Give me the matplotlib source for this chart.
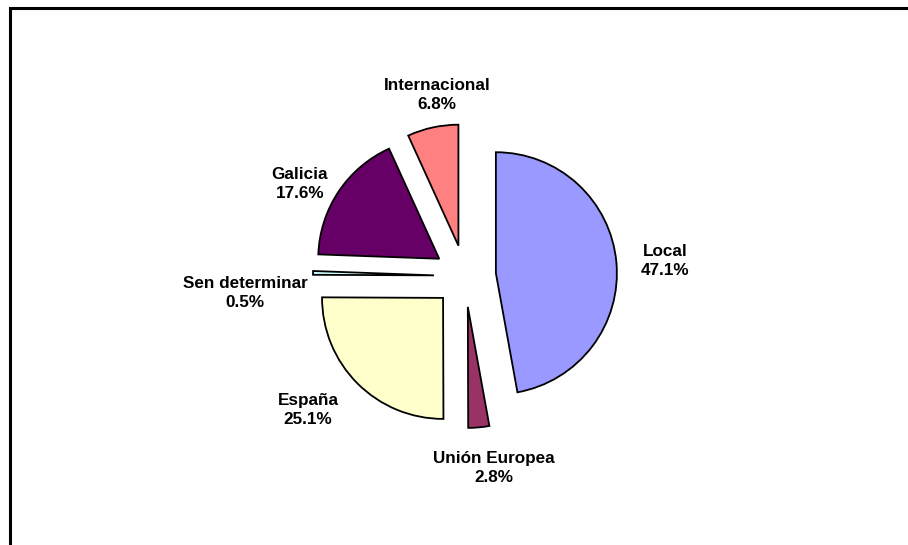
import matplotlib.pyplot as plt
from matplotlib.patches import Rectangle

labels  = ["Local", "Unión Europea", "España", "Sen determinar", "Galicia", "Internacional"]
values  = [47.1, 2.8, 25.1, 0.5, 17.6, 6.8]
colors  = ["#9999FF", "#993366", "#FFFFCC", "#CCFFFF", "#660066", "#FF8080"]
# label centres in image pixels (x, y from top)
label_pos = [(665, 261), (494, 468), (308, 410), (245, 293), (300, 184), (437, 95)]

W, H = 908, 545
fig = plt.figure(figsize=(W / 100, H / 100), dpi=100)
ax = fig.add_axes([0, 0, 1, 1])

radius = 121
# explode is in data units here (pixels)
ax.pie(values, colors=colors, startangle=90, counterclock=False,
       explode=[31] * len(values), center=(465, H - 276), radius=radius,
       wedgeprops=dict(edgecolor="black", linewidth=1.3), frame=True)
ax.set_xlim(0, W)
ax.set_ylim(0, H)
ax.set_aspect("equal")
ax.axis("off")

for lab, v, (x, y) in zip(labels, values, label_pos):
    ax.text(x, H - y, f"{lab}\n{v:.1f}%", ha="center", va="center",
            fontsize=12.3, fontweight="bold", family="Liberation Sans",
            linespacing=1.4)

# outer frame (cut off at right and bottom)
ax.add_patch(Rectangle((9.5, -30), 960, H - 8 + 30, fill=False,
                       edgecolor="black", linewidth=2.2, clip_on=True))

fig.savefig("out.png", dpi=100)
